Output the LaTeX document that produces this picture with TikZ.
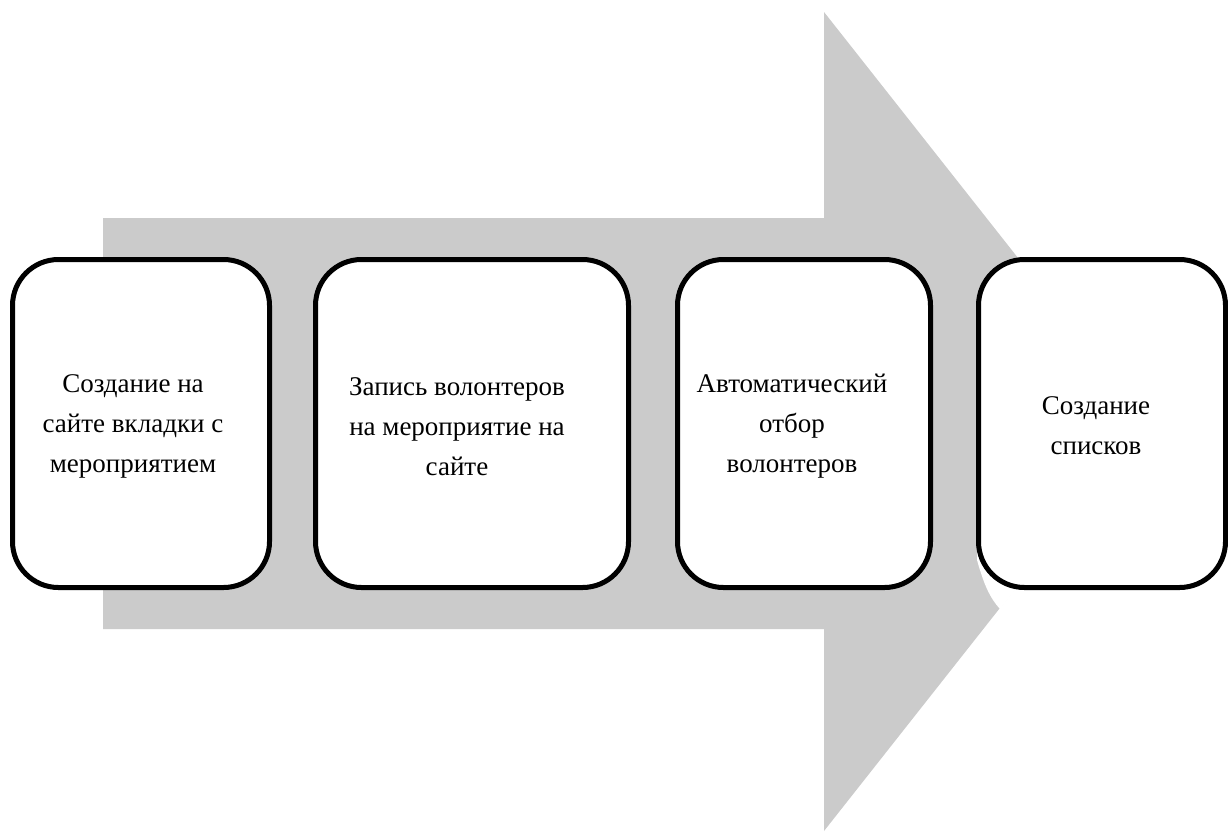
\documentclass[tikz,border=0pt]{standalone}
\usepackage{fontspec}
\setmainfont{LiberationSerif}[Extension=.ttf, UprightFont=*-Regular, BoldFont=*-Bold]
\definecolor{arrowgray}{HTML}{CBCBCB}
\begin{document}
\begin{tikzpicture}[x=1pt,y=-1pt,
  stepbox/.style={draw=black, fill=white, line width=5pt, rounded corners=46pt, rectangle, inner sep=0pt},
  steptext/.style={align=center, font=\fontsize{27}{40}\selectfont, inner sep=0pt}]
\useasboundingbox (0,0) rectangle (1228,831);
% big arrow
\fill[arrowgray] (103,218) -- (824,218) -- (824,12) -- (1147,421.5) -- (824,831) -- (824,629) -- (103,629) -- cycle;
% white notch at lower left of last box
\fill[white] (977,548) -- (977,560) .. controls (984,585) and (990,598) .. (1000,609) -- (1045,552) -- cycle;
% boxes
\node[stepbox, minimum width=257pt, minimum height=328pt] (b1) at (141,423.5) {};
\node[stepbox, minimum width=313pt, minimum height=328pt] (b2) at (472,423.5) {};
\node[stepbox, minimum width=253pt, minimum height=328pt] (b3) at (804,423.5) {};
\node[stepbox, minimum width=247pt, minimum height=328pt] (b4) at (1102,423.5) {};
% texts
\node[steptext] (t1) at ([xshift=-8pt,yshift=-3pt]b1.center) {Создание на\\сайте вкладки с\\мероприятием};
\node[steptext] (t2) at ([xshift=-15pt,yshift=-3pt]b2.center) {Запись волонтеров\\на мероприятие на\\сайте};
\node[steptext] (t3) at ([xshift=-12pt,yshift=-3pt]b3.center) {Автоматический\\отбор\\волонтеров};
\node[steptext] (t4) at ([xshift=-6pt,yshift=-2pt]b4.center) {Создание\\списков};
\end{tikzpicture}
\end{document}
